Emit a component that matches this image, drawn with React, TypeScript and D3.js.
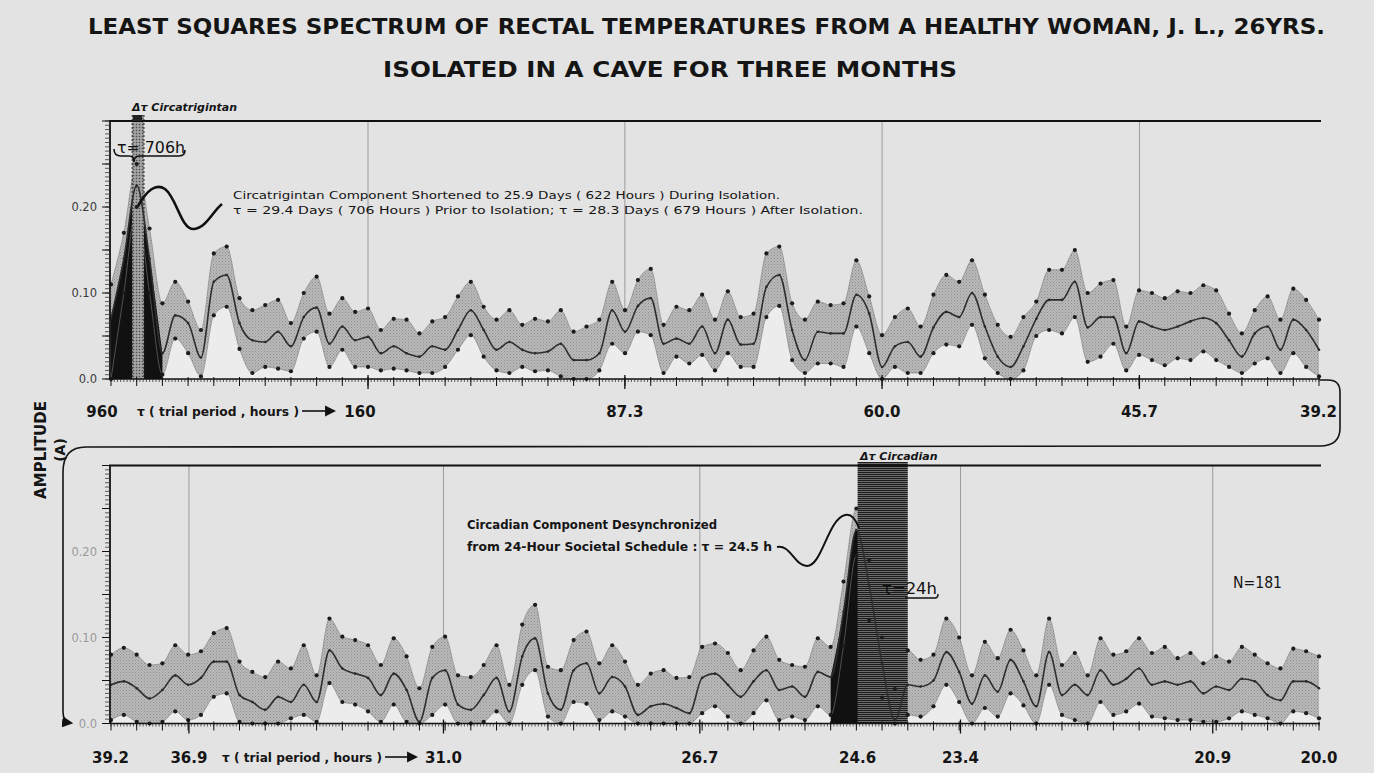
import React from "react";
import * as d3 from "d3";

// ---------- data ----------
const FUNDAMENTAL_HOURS = 960; // trial periods are 960 / harmonic
const HARMONIC_STEP = 0.25;
const topHarmonicRange = [1, 24.5];
const bottomHarmonicRange = [24.5, 48];

const topUpper = [
  0.110, 0.170, 0.250, 0.175, 0.088,
  0.113, 0.090, 0.057, 0.146, 0.154,
  0.094, 0.080, 0.086, 0.092, 0.065,
  0.100, 0.119, 0.076, 0.094, 0.078,
  0.082, 0.057, 0.070, 0.069, 0.053,
  0.067, 0.072, 0.096, 0.113, 0.084,
  0.069, 0.080, 0.063, 0.070, 0.067,
  0.080, 0.055, 0.061, 0.069, 0.113,
  0.080, 0.115, 0.128, 0.063, 0.084,
  0.080, 0.098, 0.069, 0.102, 0.072,
  0.076, 0.146, 0.154, 0.088, 0.069,
  0.090, 0.086, 0.088, 0.138, 0.096,
  0.051, 0.072, 0.082, 0.061, 0.098,
  0.121, 0.113, 0.138, 0.098, 0.063,
  0.049, 0.072, 0.090, 0.127, 0.127,
  0.150, 0.100, 0.111, 0.115, 0.061,
  0.103, 0.100, 0.094, 0.102, 0.100,
  0.109, 0.103, 0.076, 0.053, 0.080,
  0.096, 0.069, 0.105, 0.092, 0.069,
];
const topAmplitude = [
  0.070, 0.140, 0.225, 0.140, 0.030,
  0.074, 0.065, 0.025, 0.113, 0.121,
  0.065, 0.045, 0.043, 0.055, 0.038,
  0.072, 0.083, 0.041, 0.061, 0.045,
  0.049, 0.030, 0.038, 0.030, 0.026,
  0.038, 0.034, 0.057, 0.080, 0.057,
  0.034, 0.043, 0.034, 0.030, 0.032,
  0.041, 0.022, 0.022, 0.030, 0.080,
  0.055, 0.085, 0.094, 0.041, 0.047,
  0.041, 0.061, 0.030, 0.069, 0.040,
  0.041, 0.107, 0.121, 0.057, 0.022,
  0.055, 0.053, 0.053, 0.098, 0.076,
  0.014, 0.038, 0.043, 0.026, 0.060,
  0.078, 0.072, 0.100, 0.061, 0.026,
  0.014, 0.038, 0.070, 0.092, 0.092,
  0.113, 0.060, 0.072, 0.072, 0.030,
  0.067, 0.061, 0.057, 0.061, 0.067,
  0.071, 0.065, 0.045, 0.026, 0.053,
  0.061, 0.034, 0.069, 0.057, 0.034,
];
const topLower = [
  0.000, 0.100, 0.200, 0.100, 0.005,
  0.047, 0.030, 0.003, 0.074, 0.084,
  0.035, 0.007, 0.014, 0.012, 0.009,
  0.047, 0.055, 0.014, 0.034, 0.014,
  0.014, 0.010, 0.012, 0.010, 0.007,
  0.007, 0.014, 0.034, 0.051, 0.026,
  0.010, 0.007, 0.014, 0.009, 0.010,
  0.003, 0.000, 0.000, 0.010, 0.041,
  0.030, 0.055, 0.051, 0.007, 0.026,
  0.018, 0.028, 0.010, 0.030, 0.014,
  0.014, 0.072, 0.085, 0.022, 0.007,
  0.018, 0.018, 0.014, 0.061, 0.030,
  0.000, 0.014, 0.007, 0.007, 0.030,
  0.040, 0.038, 0.063, 0.024, 0.007,
  0.000, 0.010, 0.050, 0.057, 0.053,
  0.072, 0.020, 0.026, 0.041, 0.010,
  0.028, 0.022, 0.016, 0.024, 0.022,
  0.032, 0.022, 0.014, 0.007, 0.018,
  0.024, 0.007, 0.030, 0.014, 0.003,
];

const bottomUpper = [
  0.080, 0.088, 0.080, 0.068, 0.070,
  0.091, 0.080, 0.084, 0.105, 0.111,
  0.072, 0.060, 0.054, 0.072, 0.064,
  0.091, 0.056, 0.122, 0.101, 0.097,
  0.091, 0.068, 0.099, 0.078, 0.041,
  0.089, 0.101, 0.056, 0.054, 0.068,
  0.091, 0.045, 0.115, 0.138, 0.066,
  0.062, 0.097, 0.107, 0.070, 0.091,
  0.072, 0.045, 0.058, 0.062, 0.053,
  0.054, 0.089, 0.093, 0.082, 0.062,
  0.085, 0.101, 0.074, 0.068, 0.066,
  0.099, 0.089, 0.165, 0.250, 0.190,
  0.100, 0.040, 0.085, 0.074, 0.080,
  0.122, 0.100, 0.056, 0.095, 0.076,
  0.109, 0.085, 0.056, 0.122, 0.068,
  0.082, 0.056, 0.099, 0.080, 0.084,
  0.099, 0.082, 0.089, 0.076, 0.082,
  0.070, 0.078, 0.072, 0.089, 0.080,
  0.070, 0.064, 0.087, 0.084, 0.078,
];
const bottomAmplitude = [
  0.045, 0.049, 0.041, 0.029, 0.039,
  0.056, 0.045, 0.053, 0.072, 0.072,
  0.033, 0.025, 0.016, 0.031, 0.025,
  0.045, 0.025, 0.085, 0.064, 0.058,
  0.053, 0.033, 0.058, 0.039, 0.002,
  0.053, 0.062, 0.022, 0.016, 0.033,
  0.053, 0.014, 0.078, 0.099, 0.035,
  0.016, 0.062, 0.070, 0.035, 0.054,
  0.043, 0.010, 0.020, 0.023, 0.018,
  0.012, 0.053, 0.058, 0.045, 0.031,
  0.049, 0.062, 0.039, 0.043, 0.031,
  0.060, 0.054, 0.130, 0.225, 0.160,
  0.070, 0.004, 0.045, 0.043, 0.050,
  0.083, 0.060, 0.023, 0.056, 0.037,
  0.074, 0.049, 0.020, 0.083, 0.033,
  0.045, 0.033, 0.062, 0.045, 0.052,
  0.064, 0.045, 0.049, 0.045, 0.049,
  0.035, 0.043, 0.039, 0.052, 0.049,
  0.033, 0.027, 0.049, 0.049, 0.041,
];
const bottomLower = [
  0.004, 0.010, 0.002, 0.000, 0.002,
  0.014, 0.004, 0.010, 0.031, 0.035,
  0.002, 0.000, 0.000, 0.000, 0.006,
  0.010, 0.002, 0.047, 0.025, 0.022,
  0.014, 0.002, 0.022, 0.002, 0.000,
  0.010, 0.022, 0.000, 0.000, 0.002,
  0.014, 0.000, 0.045, 0.062, 0.008,
  0.000, 0.025, 0.023, 0.004, 0.014,
  0.008, 0.000, 0.000, 0.000, 0.000,
  0.000, 0.012, 0.020, 0.008, 0.000,
  0.012, 0.027, 0.004, 0.008, 0.004,
  0.020, 0.010, 0.090, 0.195, 0.120,
  0.030, 0.000, 0.010, 0.008, 0.020,
  0.045, 0.025, 0.000, 0.018, 0.008,
  0.035, 0.021, 0.000, 0.045, 0.010,
  0.004, 0.000, 0.025, 0.010, 0.014,
  0.023, 0.008, 0.006, 0.004, 0.004,
  0.002, 0.002, 0.006, 0.014, 0.010,
  0.006, 0.000, 0.014, 0.012, 0.006,
];

const topPeriodLabels = ["960", "160", "87.3", "60.0", "45.7", "39.2"];
const bottomPeriodLabels = ["39.2", "36.9", "31.0", "26.7", "24.6", "23.4", "20.9", "20.0"];
const topGridPeriods = [160, 87.3, 60.0, 45.7];
const bottomGridPeriods = [36.9, 31.0, 26.7, 23.4, 20.9];
const amplitudeTickLabels = ["0.0", "0.10", "0.20"];
const circatrigintanBandHours = [680, 585];
const circadianBandHours = [24.6, 24.0];
const topPeakHarmonics = [1, 2];
const bottomPeakHarmonics = [38.5, 39.75];

// ---------- helpers ----------
const harmonicOf = (hours: number) => FUNDAMENTAL_HOURS / hours;
const FONT = "DejaVu Sans, Verdana, sans-serif";

type Pt = { h: number; u: number; c: number; l: number };

function Panel(props: {
  harmonics: number[];
  upper: number[];
  amp: number[];
  lower: number[];
  x: d3.ScaleLinear<number, number>;
  y: d3.ScaleLinear<number, number>;
  peak: number[];
  bandHours: number[];
  bandTop: number;
  bandFill: string;
  bandDashed: boolean;
  gridPeriods: number[];
  labelColor: string;
}) {
  const { harmonics, upper, amp, lower, x, y, peak, bandHours, bandTop, bandFill, bandDashed, gridPeriods, labelColor } = props;
  const pts: Pt[] = harmonics.map((h, i) => ({ h, u: upper[i], c: amp[i], l: lower[i] }));
  const curve = d3.curveMonotoneX;
  const band = d3.area<Pt>().x((d) => x(d.h)).y0((d) => y(d.l)).y1((d) => y(d.u)).curve(curve);
  const under = d3.area<Pt>().x((d) => x(d.h)).y0(y(0)).y1((d) => y(d.l)).curve(curve);
  const underC = d3.area<Pt>().x((d) => x(d.h)).y0(y(0)).y1((d) => y(d.c)).curve(curve);
  const lineU = d3.line<Pt>().x((d) => x(d.h)).y((d) => y(d.u)).curve(curve);
  const lineL = d3.line<Pt>().x((d) => x(d.h)).y((d) => y(d.l)).curve(curve);
  const lineC = d3.line<Pt>().x((d) => x(d.h)).y((d) => y(d.c)).curve(curve);
  const peakPts = pts.filter((d) => d.h >= peak[0] - 1e-9 && d.h <= peak[1] + 1e-9);

  const [d0, d1] = x.domain();
  const x0 = x(d0) - 1;
  const x1 = x(d1) + 1;
  const yTop = y(0.3);
  const yBase = y(0);

  const minorTicks = d3.range(d0, d1 + 1e-9, 1 / 16);
  const medTicks = d3.range(Math.ceil(d0 * 2) / 2, d1 + 1e-9, 0.5);
  const yMinor = d3.range(0, 0.3 + 1e-9, 0.005);
  const yMajor = d3.range(0, 0.3 + 1e-9, 0.05);

  const bx0 = x(harmonicOf(bandHours[0]));
  const bx1 = x(harmonicOf(bandHours[1]));

  return (
    <g>
      {gridPeriods.map((p) => (
        <line key={p} x1={x(harmonicOf(p))} x2={x(harmonicOf(p))} y1={yTop} y2={yBase} stroke="#7c7c7c" strokeWidth={0.7} />
      ))}
      <path d={under(pts) || ""} fill="#ececec" />
      <path d={band(pts) || ""} fill="url(#bandTex)" />
      <path d={underC(peakPts) || ""} fill="#111" />
      <path d={lineU(pts) || ""} fill="none" stroke="#7a7a7a" strokeWidth={0.6} />
      <path d={lineL(pts) || ""} fill="none" stroke="#7a7a7a" strokeWidth={0.6} />
      {/* delta-tau band */}
      <rect x={bx0} y={bandTop} width={bx1 - bx0} height={yBase - bandTop} fill={bandFill} />
      {bandDashed && (
        <g stroke="#222" strokeWidth={1} strokeDasharray="2,2">
          <line x1={bx0} x2={bx0} y1={bandTop} y2={yBase} />
          <line x1={bx1} x2={bx1} y1={bandTop} y2={yBase} />
        </g>
      )}
      <path d={lineC(pts) || ""} fill="none" stroke="#2e2e2e" strokeWidth={1.6} />
      {pts.map((d, i) => (
        <g key={i}>
          <circle cx={x(d.h)} cy={y(d.u)} r={2.1} fill="#1c1c1c" />
          <circle cx={x(d.h)} cy={y(d.l)} r={2.1} fill="#1c1c1c" />
          <circle cx={x(d.h)} cy={y(d.c)} r={1.3} fill="#2a2a2a" />
        </g>
      ))}
      {/* frame */}
      <line x1={x0 - 1} x2={x1 + 1} y1={yTop} y2={yTop} stroke="#111" strokeWidth={2} />
      <line x1={x0} x2={x0} y1={yTop} y2={yBase} stroke="#111" strokeWidth={1.8} />
      <line x1={x0} x2={x1} y1={yBase} y2={yBase} stroke="#111" strokeWidth={1.3} />
      {minorTicks.map((h, i) => (
        <line key={"m" + i} x1={x(h)} x2={x(h)} y1={yBase} y2={yBase + 3} stroke="#222" strokeWidth={0.7} />
      ))}
      {medTicks.map((h, i) => (
        <line key={"t" + i} x1={x(h)} x2={x(h)} y1={yBase - 2} y2={yBase + 7} stroke="#111" strokeWidth={1} />
      ))}
      {gridPeriods.map((p) => (
        <line key={"g" + p} x1={x(harmonicOf(p))} x2={x(harmonicOf(p))} y1={yBase - 4} y2={yBase + 10} stroke="#111" strokeWidth={1.3} />
      ))}
      {yMinor.map((v, i) => (
        <line key={"ym" + i} x1={x0 - 5} x2={x0} y1={y(v)} y2={y(v)} stroke="#333" strokeWidth={0.8} />
      ))}
      {yMajor.map((v, i) => (
        <line key={"yM" + i} x1={x0 - 8} x2={x0} y1={y(v)} y2={y(v)} stroke="#111" strokeWidth={1} />
      ))}
      {amplitudeTickLabels.map((t) => (
        <text key={t} x={97} y={y(parseFloat(t)) + 4} textAnchor="end" fontSize={11.5} fontFamily={FONT} fill={labelColor}>
          {t}
        </text>
      ))}
    </g>
  );
}

export default function App() {
  const topH = d3.range(topHarmonicRange[0], topHarmonicRange[1] + 1e-9, HARMONIC_STEP);
  const botH = d3.range(bottomHarmonicRange[0], bottomHarmonicRange[1] + 1e-9, HARMONIC_STEP);

  const xTop = d3.scaleLinear().domain(topHarmonicRange).range([111, 1319]);
  const xBot = d3.scaleLinear().domain(bottomHarmonicRange).range([111, 1319]);
  const yTop = d3.scaleLinear().domain([0, 0.3]).range([379, 121]);
  const yBot = d3.scaleLinear().domain([0, 0.3]).range([723.5, 465.5]);

  const labelNudge: Record<string, number> = { "960": -9, "160": -8 };

  return (
    <svg width={1374} height={773} style={{ position: "absolute", left: 0, top: 0, display: "block" }}>
      <defs>
        <pattern id="bandTex" width="3" height="3" patternUnits="userSpaceOnUse">
          <rect width="3" height="3" fill="#b9b9b9" />
          <rect x="0" y="0" width="1" height="1" fill="#8d8d8d" />
          <rect x="1.5" y="1.5" width="1" height="1" fill="#9a9a9a" />
        </pattern>
        <pattern id="stipple" width="3" height="3" patternUnits="userSpaceOnUse">
          <rect width="3" height="3" fill="#a2a2a2" />
          <circle cx="1.5" cy="1.5" r="0.75" fill="#4a4a4a" />
        </pattern>
        <pattern id="hlines" width="4" height="2" patternUnits="userSpaceOnUse">
          <rect width="4" height="2" fill="#6c6c6c" />
          <rect width="4" height="1" fill="#1c1c1c" />
        </pattern>
        <marker id="arrow" viewBox="0 0 10 10" refX="8" refY="5" markerWidth="7" markerHeight="7" orient="auto">
          <path d="M0,0 L10,5 L0,10 Z" fill="#111" />
        </marker>
      </defs>
      <rect width={1374} height={773} fill="#e3e3e3" />

      {/* titles */}
      <text x={88} y={34} textLength={1237} lengthAdjust="spacingAndGlyphs" fontSize={21} fontWeight="bold" fontFamily={FONT} fill="#151515">
        LEAST SQUARES SPECTRUM OF RECTAL TEMPERATURES FROM A HEALTHY WOMAN, J. L., 26YRS.
      </text>
      <text x={383} y={77} textLength={574} lengthAdjust="spacingAndGlyphs" fontSize={21} fontWeight="bold" fontFamily={FONT} fill="#151515">
        ISOLATED IN A CAVE FOR THREE MONTHS
      </text>

      <Panel
        harmonics={topH}
        upper={topUpper}
        amp={topAmplitude}
        lower={topLower}
        x={xTop}
        y={yTop}
        peak={topPeakHarmonics}
        bandHours={circatrigintanBandHours}
        bandTop={115}
        bandFill="url(#stipple)"
        bandDashed={true}
        gridPeriods={topGridPeriods}
        labelColor="#3a3a3a"
      />
      <Panel
        harmonics={botH}
        upper={bottomUpper}
        amp={bottomAmplitude}
        lower={bottomLower}
        x={xBot}
        y={yBot}
        peak={bottomPeakHarmonics}
        bandHours={circadianBandHours}
        bandTop={462}
        bandFill="url(#hlines)"
        bandDashed={false}
        gridPeriods={bottomGridPeriods}
        labelColor="#9a9a9a"
      />

      {/* x period labels */}
      {topPeriodLabels.map((t) => (
        <text key={"tp" + t} x={xTop(harmonicOf(parseFloat(t))) + (labelNudge[t] || 0)} y={417} textAnchor="middle" fontSize={15} fontWeight="bold" fontFamily={FONT} fill="#151515">
          {t}
        </text>
      ))}
      {bottomPeriodLabels.map((t) => (
        <text key={"bp" + t} x={xBot(harmonicOf(parseFloat(t)))} y={763} textAnchor="middle" fontSize={15} fontWeight="bold" fontFamily={FONT} fill="#151515">
          {t}
        </text>
      ))}
      <text x={137} y={416} textLength={162} lengthAdjust="spacingAndGlyphs" fontSize={12.5} fontWeight="bold" fontFamily={FONT} fill="#151515">
        τ ( trial period , hours )
      </text>
      <line x1={302} x2={334} y1={411} y2={411} stroke="#111" strokeWidth={1.6} markerEnd="url(#arrow)" />
      <text x={222} y={762} textLength={160} lengthAdjust="spacingAndGlyphs" fontSize={12.5} fontWeight="bold" fontFamily={FONT} fill="#151515">
        τ ( trial period , hours )
      </text>
      <line x1={385} x2={416} y1={757} y2={757} stroke="#111" strokeWidth={1.6} markerEnd="url(#arrow)" />

      {/* y-axis title */}
      <text transform="translate(46,450) rotate(-90)" textAnchor="middle" fontSize={15} fontWeight="bold" fontFamily={FONT} fill="#151515">
        AMPLITUDE
      </text>
      <text transform="translate(65,450) rotate(-90)" textAnchor="middle" fontSize={14} fontWeight="bold" fontFamily={FONT} fill="#151515">
        (A)
      </text>

      {/* connector between panels */}
      <path
        d="M1320,380 L1328,380 Q1340,380 1340,392 L1340,428 Q1340,446 1320,446 L86,447 Q63,447 63,472 L63,712 Q63,722 71,723"
        fill="none"
        stroke="#151515"
        strokeWidth={1.6}
        markerEnd="url(#arrow)"
      />

      {/* top annotations */}
      <text x={132} y={111} fontSize={11} fontStyle="italic" fontWeight="bold" fontFamily={FONT} fill="#151515">
        Δτ Circatrigintan
      </text>
      <rect x={133} y={115} width={9} height={6} fill="#222" />
      <text x={117} y={153} textLength={68} lengthAdjust="spacingAndGlyphs" fontSize={16} fontFamily={FONT} fill="#111">
        τ= 706h
      </text>
      <path d="M114,149 Q114,156 121,156 L129,156 Q134,156 134,162 Q134,156 139,156 L179,156 Q185,156 185,150" fill="none" stroke="#111" strokeWidth={1.6} />
      <path d="M138,206 C147,190 156,183 165,189 C177,198 181,230 194,229 C206,228 213,211 222,204" fill="none" stroke="#111" strokeWidth={2.6} />
      <text x={233} y={199} textLength={547} lengthAdjust="spacingAndGlyphs" fontSize={11} fontFamily={FONT} fill="#151515">
        Circatrigintan Component Shortened to 25.9 Days ( 622 Hours ) During Isolation.
      </text>
      <text x={233} y={214} textLength={630} lengthAdjust="spacingAndGlyphs" fontSize={11} fontFamily={FONT} fill="#151515">
        τ = 29.4 Days ( 706 Hours ) Prior to Isolation; τ = 28.3 Days ( 679 Hours ) After Isolation.
      </text>

      {/* bottom annotations */}
      <text x={860} y={460} fontSize={11} fontStyle="italic" fontWeight="bold" fontFamily={FONT} fill="#151515">
        Δτ Circadian
      </text>
      <text x={467} y={529} textLength={250} lengthAdjust="spacingAndGlyphs" fontSize={12.5} fontWeight="bold" fontFamily={FONT} fill="#151515">
        Circadian Component Desynchronized
      </text>
      <text x={467} y={551} textLength={305} lengthAdjust="spacingAndGlyphs" fontSize={12.5} fontWeight="bold" fontFamily={FONT} fill="#151515">
        from 24-Hour Societal Schedule : τ = 24.5 h
      </text>
      <path d="M777,547 C790,544 795,566 807,566 C822,566 828,519 845,515 C852,513 856,520 859,528" fill="none" stroke="#111" strokeWidth={2} />
      <text x={882} y={594} textLength={55} lengthAdjust="spacingAndGlyphs" fontSize={15} fontFamily={FONT} fill="#111">
        τ=24h
      </text>
      <path d="M905,598 L935,598 Q938,598 938,594" fill="none" stroke="#111" strokeWidth={1.5} />
      <text x={1233} y={588} textLength={49} lengthAdjust="spacingAndGlyphs" fontSize={15} fontFamily={FONT} fill="#151515">
        N=181
      </text>
    </svg>
  );
}
